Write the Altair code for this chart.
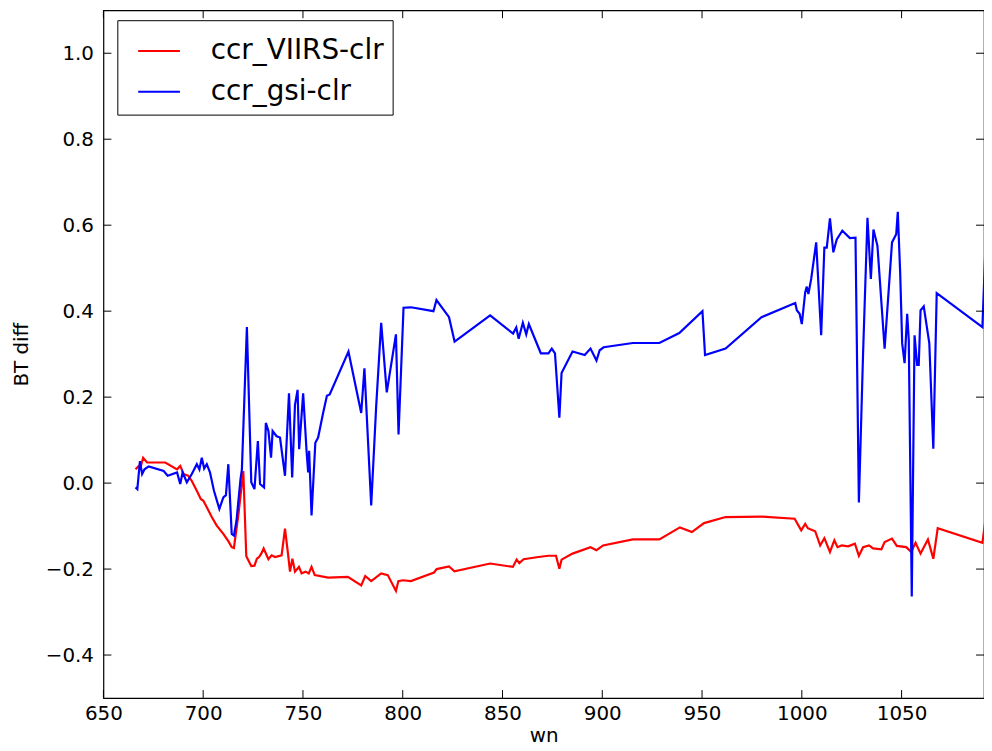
import altair as alt
import pandas as pd

# ---- data ----
wn_gsi = [666.1, 667.0, 668.3, 669.4, 670.6, 672.7, 680.2, 682.2, 686.9, 688.5, 689.7, 691.8,
          694.3, 696.8, 698.1, 699.3, 700.5, 701.8, 703.4, 705.4, 708.1, 710.1, 711.4, 712.6,
          714.3, 715.4, 716.7, 718.7, 719.4, 721.9, 724.1, 725.7, 727.4, 728.5, 730.5, 731.4,
          732.7, 734.0, 734.8, 736.8, 738.5, 741.0, 743.0, 744.6, 746.0, 747.3, 748.1, 750.1,
          751.8, 752.6, 753.1, 754.3, 756.2, 757.6, 760.1, 762.0, 763.4, 772.8, 779.2, 780.8,
          784.2, 786.7, 789.2, 792.0, 796.6, 797.9, 800.4, 804.1, 815.4, 816.9, 823.2, 826.0,
          843.8, 855.3, 856.9, 858.1, 860.2, 861.9, 863.2, 869.2, 873.0, 874.7, 876.3, 878.5,
          879.6, 885.1, 891.2, 894.1, 897.1, 898.7, 900.7, 915.3, 928.6, 938.6, 950.2, 951.5,
          961.8, 979.8, 996.7, 997.5, 998.9, 1000.0, 1001.7, 1002.5, 1003.3, 1004.7, 1007.2,
          1009.7, 1011.3, 1012.5, 1014.1, 1015.8, 1017.5, 1020.3, 1024.1, 1026.9, 1028.6,
          1030.7, 1032.9, 1034.6, 1035.9, 1037.9, 1041.5, 1045.2, 1047.3, 1048.1, 1049.3,
          1050.3, 1051.5, 1052.8, 1053.6, 1055.1, 1056.5, 1057.8, 1058.6, 1059.5, 1061.1,
          1063.9, 1065.9, 1067.6, 1090.5, 1092.3]
gsi = [-0.010, -0.014, 0.051, 0.021, 0.032, 0.039, 0.028, 0.017, 0.025, -0.002, 0.025, 0.002,
       0.021, 0.044, 0.032, 0.059, 0.034, 0.044, 0.025, -0.018, -0.060, -0.033, -0.028, 0.044,
       -0.118, -0.122, -0.087, 0.009, 0.032, 0.363, 0.002, -0.014, 0.098, -0.002, -0.010, 0.140,
       0.121, 0.059, 0.121, 0.109, 0.106, 0.017, 0.209, 0.013, 0.182, 0.217, 0.079, 0.209,
       0.075, 0.025, 0.075, -0.075, 0.094, 0.106, 0.163, 0.203, 0.206, 0.306, 0.163, 0.267,
       -0.052, 0.179, 0.373, 0.211, 0.346, 0.113, 0.408, 0.409, 0.400, 0.426, 0.386, 0.329,
       0.390, 0.348, 0.362, 0.336, 0.373, 0.346, 0.370, 0.302, 0.302, 0.313, 0.302, 0.152,
       0.256, 0.306, 0.298, 0.313, 0.285, 0.309, 0.316, 0.326, 0.326, 0.349, 0.400, 0.298,
       0.313, 0.386, 0.419, 0.402, 0.394, 0.370, 0.444, 0.457, 0.440, 0.475, 0.560,
       0.344, 0.548, 0.548, 0.616, 0.537, 0.567, 0.587, 0.570, 0.571, -0.045,
       0.302, 0.617, 0.475, 0.590, 0.552, 0.313, 0.560, 0.579, 0.631, 0.488,
       0.325, 0.279, 0.394, 0.333, -0.264, 0.344, 0.275, 0.275, 0.402, 0.411,
       0.325, 0.080, 0.442, 0.363, 0.583]

wn_viirs = [666.1, 667.8, 668.8, 669.9, 671.9, 681.0, 686.9, 688.5, 690.2, 692.6, 694.3, 696.8,
            698.8, 700.1, 701.8, 704.3, 706.8, 710.1, 712.6, 714.3, 715.4, 717.6, 720.1, 721.6,
            724.1, 725.7, 726.9, 728.0, 729.1, 730.3, 732.7, 734.3, 736.0, 739.3, 741.0, 742.7,
            743.5, 744.7, 746.0, 748.0, 749.3, 751.3, 752.9, 754.3, 755.9, 762.6, 772.5, 779.2,
            781.2, 784.2, 789.2, 792.5, 796.6, 797.8, 800.0, 804.1, 815.7, 817.0, 823.2, 825.9,
            843.8, 855.2, 857.1, 858.4, 860.6, 868.0, 873.0, 876.8, 878.5, 879.6, 885.1, 894.1,
            897.1, 900.4, 915.3, 928.6, 938.9, 944.9, 951.0, 961.8, 980.1, 996.4, 999.7, 1001.7,
            1003.0, 1006.7, 1009.2, 1011.3, 1014.1, 1016.3, 1017.9, 1020.0, 1023.2, 1026.6,
            1028.6, 1030.7, 1033.7, 1035.7, 1039.9, 1041.5, 1045.2, 1047.6, 1052.3, 1054.8,
            1057.0, 1059.5, 1063.2, 1065.9, 1068.1, 1090.5, 1092.3]
viirs = [0.032, 0.040, 0.040, 0.059, 0.048, 0.048, 0.032, 0.040, 0.021, 0.017, 0.005, -0.018,
         -0.037, -0.041, -0.056, -0.079, -0.099, -0.118, -0.135, -0.149, -0.151, -0.075, 0.028, -0.170,
         -0.193, -0.192, -0.176, -0.172, -0.164, -0.152, -0.177, -0.168, -0.172, -0.168, -0.106, -0.172,
         -0.206, -0.176, -0.206, -0.195, -0.210, -0.206, -0.210, -0.195, -0.214, -0.220, -0.218, -0.238,
         -0.216, -0.228, -0.210, -0.214, -0.251, -0.228, -0.226, -0.228, -0.208, -0.200, -0.194, -0.205,
         -0.187, -0.195, -0.178, -0.186, -0.177, -0.172, -0.169, -0.169, -0.199, -0.178, -0.164, -0.149,
         -0.156, -0.145, -0.131, -0.131, -0.103, -0.114, -0.093, -0.079, -0.078, -0.083, -0.110, -0.095,
         -0.105, -0.112, -0.145, -0.128, -0.160, -0.133, -0.149, -0.145, -0.147, -0.141,
         -0.169, -0.149, -0.145, -0.152, -0.154, -0.137, -0.129, -0.146, -0.149, -0.160,
         -0.139, -0.164, -0.131, -0.176, -0.105, -0.139, -0.075]

series_names = ["ccr_VIIRS-clr", "ccr_gsi-clr"]
series_colors = ["#ff0000", "#0000ff"]
x_ticks = [650, 700, 750, 800, 850, 900, 950, 1000, 1050]
y_ticks = [-0.4, -0.2, 0.0, 0.2, 0.4, 0.6, 0.8, 1.0]
x_domain = [650, 1091.3]
y_domain = [-0.5, 1.1]

# ---- layout ----
W, H = 886, 692
TICK = 8
FONT = "DejaVu Sans"

df = pd.concat([
    pd.DataFrame({"wn": wn_viirs, "value": viirs, "series": series_names[0]}),
    pd.DataFrame({"wn": wn_gsi, "value": gsi, "series": series_names[1]}),
], ignore_index=True)

xs = alt.Scale(domain=x_domain, nice=False, zero=False)
ys = alt.Scale(domain=y_domain, nice=False, zero=False)

lines = alt.Chart(df).mark_line(strokeWidth=2.2, clip=True).encode(
    x=alt.X("wn:Q", scale=xs, title="wn",
            axis=alt.Axis(values=x_ticks, format="d", ticks=False, domain=False,
                          grid=False, labelPadding=6, titlePadding=2, labelFlush=False)),
    y=alt.Y("value:Q", scale=ys, title="BT diff",
            axis=alt.Axis(values=y_ticks, format=".1f", ticks=False, domain=False,
                          grid=False, labelPadding=10, titlePadding=14, labelFlush=False)),
    color=alt.Color("series:N", sort=series_names,
                    scale=alt.Scale(domain=series_names, range=series_colors),
                    legend=alt.Legend(title=None, orient="none", legendX=14, legendY=10,
                                      symbolType="stroke", symbolSize=1764,
                                      symbolStrokeWidth=2, symbolOffset=11,
                                      labelFontSize=28, labelFont=FONT, labelColor="black",
                                      labelLimit=400, labelOffset=30, rowPadding=5,
                                      padding=9, strokeColor="black", fillColor="white")),
    order=alt.Order("wn:Q"),
)

xt = pd.DataFrame({"v": x_ticks})
yt = pd.DataFrame({"v": y_ticks})

xtick_bot = alt.Chart(xt).mark_rule(color="black", strokeWidth=1).encode(
    x=alt.X("v:Q", scale=xs), y=alt.value(H), y2=alt.value(H - TICK))
xtick_top = alt.Chart(xt).mark_rule(color="black", strokeWidth=1).encode(
    x=alt.X("v:Q", scale=xs), y=alt.value(0), y2=alt.value(TICK))
ytick_left = alt.Chart(yt).mark_rule(color="black", strokeWidth=1).encode(
    y=alt.Y("v:Q", scale=ys), x=alt.value(0), x2=alt.value(TICK))
ytick_right = alt.Chart(yt).mark_rule(color="black", strokeWidth=1).encode(
    y=alt.Y("v:Q", scale=ys), x=alt.value(W - TICK), x2=alt.value(W))

chart = alt.layer(lines, xtick_bot, xtick_top, ytick_left, ytick_right).properties(
    width=W, height=H,
    padding={"left": 96, "top": 0, "right": 0, "bottom": 48},
    autosize=alt.AutoSizeParams(type="none"),
).configure_view(
    stroke="black", strokeWidth=1.2
).configure_axis(
    labelFont=FONT, labelFontSize=20, labelColor="black",
    titleFont=FONT, titleFontSize=20, titleColor="black", titleFontWeight="normal",
)

chart.save("out.html", embed_options={"renderer": "svg", "actions": False})
